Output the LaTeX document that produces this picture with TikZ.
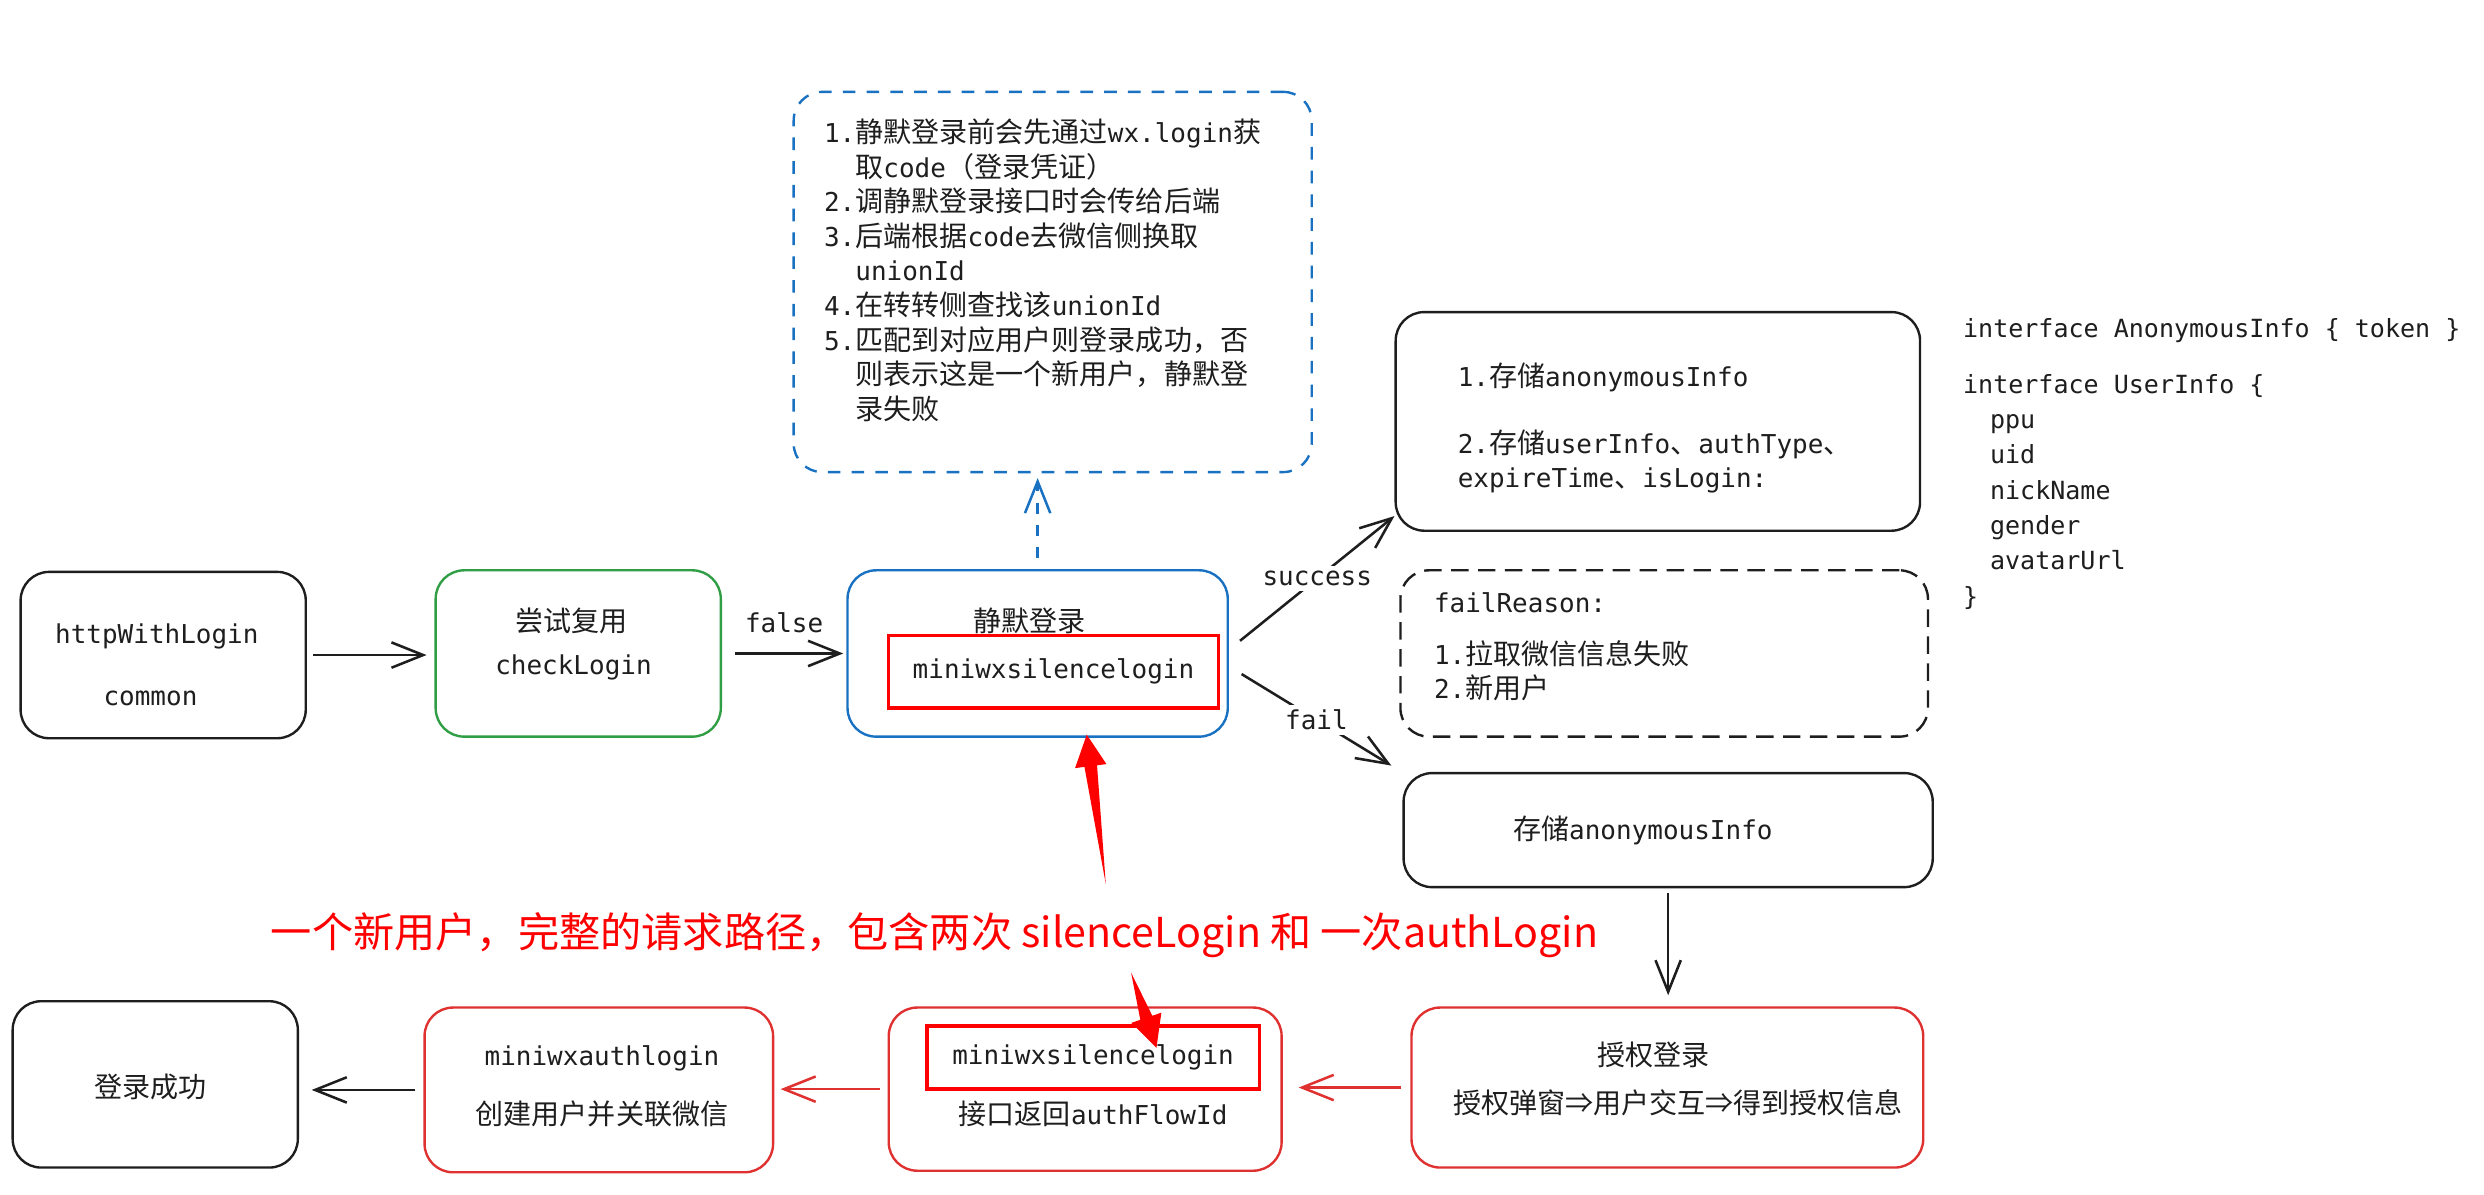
\documentclass[tikz,border=0pt]{standalone}
\usepackage{fontspec}
\setmainfont{DejaVu Sans Mono}
\newfontfamily\zhfont{Noto Sans CJK SC}[Scale=1.08]
\newfontfamily\annfont{Noto Sans CJK SC}
\usetikzlibrary{arrows.meta,calc}
\definecolor{exblack}{HTML}{1E1E1E}
\definecolor{exgreen}{HTML}{2F9E44}
\definecolor{exblue}{HTML}{1971C2}
\definecolor{exred}{HTML}{E03131}
\definecolor{apired}{HTML}{FF0000}
\newcommand*{\zh}[1]{{\zhfont #1}}
\newcommand*{\ind}{\hspace*{17pt}}
\newcommand*{\taper}[2]{%
\path (#2) coordinate (tpa) ($(#2)!20pt!(#1)$) coordinate (tpb);
\fill[apired] (#1) -- ($(tpb)!4pt!90:(#1)$) -- ($(tpb)!10pt!90:(#1)$) -- (tpa)
  -- ($(tpb)!10pt!-90:(#1)$) -- ($(tpb)!4pt!-90:(#1)$) -- cycle;}

\begin{document}
\begin{tikzpicture}[x=1pt, y=-1pt,
  roundbox/.style={draw=#1, rounded corners=18pt, line width=1.5pt},
  wh/.style 2 args={minimum width=#1pt, minimum height=#2pt},
  txt/.style={font=\fontsize{16.4}{21.8}\selectfont, inner sep=0pt, text=exblack},
  apibox/.style={txt, draw=apired, line width=2.2pt},
  gap/.style 2 args={shorten <=#1pt, shorten >=#2pt},
  arr/.style={-{Straight Barb[length=20pt,width=16pt]}, line width=1.6pt, exblack},
  redarr/.style={arr, exred},
  dasharr/.style={arr, exblue, dash pattern=on 7pt off 7pt}]

\def\bw{180}
\def\bh{105}

\useasboundingbox (0,0) rectangle (1568,754);
\fill[white] (0,0) rectangle (1568,754);

% first row
\node[roundbox=exblack, wh={\bw}{\bh}] (http) at (103,413.5) {};
\node[txt] (httpA) at (99,402) {httpWithLogin};
\node[txt] (httpB) at (95,441) {common};

\node[roundbox=exgreen, wh={\bw}{\bh}] (check) at (365,412.5) {};
\node[txt] (checkA) at (361,392) {\zh{尝试复用}};
\node[txt] (checkB) at (362,421) {checkLogin};

\node[roundbox=exblue, wh={240}{\bh}] (silent) at (655,412.5) {};
\node[txt] (silentA) at (650,392) {\zh{静默登录}};
\node[apibox, wh={208}{46}] (silentapi) at (665,424) {miniwxsilencelogin};

\node[roundbox=exblue, dash pattern=on 8pt off 7pt, wh={327}{240}] (note) at (664.5,178) {};
\node[txt, align=left, anchor=north west] (noteA) at (520,75) {%
1.\zh{静默登录前会先通过}wx.login\zh{获}\\
\phantom{1.}\zh{取}code\zh{（登录凭证）}\\
2.\zh{调静默登录接口时会传给后端}\\
3.\zh{后端根据}code\zh{去微信侧换取}\\
\phantom{3.}unionId\\
4.\zh{在转转侧查找该}unionId\\
5.\zh{匹配到对应用户则登录成功，否}\\
\phantom{5.}\zh{则表示这是一个新用户，静默登}\\
\phantom{5.}\zh{录失败}};

\node[roundbox=exblack, wh={331}{138}] (store) at (1046.5,266) {};
\node[txt, align=left, anchor=north west] (storeA) at (920,229) {%
1.\zh{存储}anonymousInfo\\[20.2pt]
2.\zh{存储}userInfo\zh{、}authType\zh{、}\\
expireTime\zh{、}isLogin:};

\node[roundbox=exblack, dash pattern=on 11pt off 6pt, wh={333}{\bh}] (reason) at (1050.5,412.5) {};
\node[txt, align=left, anchor=north west] (reasonA) at (905,374) {%
failReason:\\[10.7pt]
1.\zh{拉取微信信息失败}\\
2.\zh{新用户}};

\node[roundbox=exblack, wh={334}{72}] (anon) at (1053,524) {};
\node[txt] (anonA) at (1037,524) {\zh{存储}anonymousInfo};

\node[txt, font=\fontsize{15.8}{22.3}\selectfont, align=left, anchor=north west] (code) at (1239,201) {%
interface AnonymousInfo \{ token \}\\[12.7pt]
interface UserInfo \{\\
\ind ppu\\
\ind uid\\
\ind nickName\\
\ind gender\\
\ind avatarUrl\\
\}};

% second row
\node[roundbox=exred, wh={323}{101}] (auth) at (1052.5,686.5) {};
\node[txt] (authA) at (1044,666) {\zh{授权登录}};
\node[txt] (authB) at (1059,696) {\zh{授权弹窗⇒用户交互⇒得到授权信息}};

\node[roundbox=exred, wh={248}{103}] (silentB) at (685,687.5) {};
\node[apibox, wh={210}{40}] (silentapiB) at (690,667.5) {miniwxsilencelogin};
\node[txt] (silentBtext) at (690,703) {\zh{接口返回}authFlowId};

\node[roundbox=exred, wh={220}{104}] (authapi) at (378,688) {};
\node[txt] (authapiA) at (380,668) {miniwxauthlogin};
\node[txt] (authapiB) at (380,703) {\zh{创建用户并关联微信}};

\node[roundbox=exblack, wh={\bw}{\bh}] (done) at (98,684.5) {};
\node[txt] (doneA) at (95,686) {\zh{登录成功}};

\node[txt, font=\annfont\fontsize{26}{31}\selectfont, text=apired] (path) at (590,590)
  {一个新用户，完整的请求路径，包含两次 silenceLogin 和 一次authLogin};

% connectors
\draw[arr, gap={4}{5}] (http.east) -- (http.east -| check.west);
\draw[arr, gap={8}{2}] (check.east) -- node[txt, above=12pt] (falseA) {false} (check.east -| silent.west);
\draw[dasharr, gap={7}{3}] (silent.north) -- (silent.north |- note.south);
\draw[arr] ([xshift=7pt,yshift=8pt]silent.east) -- node[txt, fill=white, inner sep=3pt] (succA) {success} ([yshift=10pt]store.south west);
\draw[arr] ([xshift=8pt,yshift=-13pt]silent.east) -- node[txt, fill=white, inner sep=3pt] (failA) {fail} ([xshift=-7pt,yshift=4pt]anon.north west);
\draw[arr, gap={3}{7}] (anon.south) -- (anon.south |- auth.north);
\draw[redarr, gap={6}{10}] (auth.west) -- (auth.west -| silentB.east);
\draw[redarr, gap={5}{4}] (silentB.west) -- (silentB.west -| authapi.east);
\draw[arr, gap={5}{8}] (authapi.west) -- (authapi.west -| done.east);

\coordinate (tailA) at (698,558);
\coordinate (tipA) at ([xshift=31pt,yshift=2pt]silent.south);
\coordinate (tailB) at (714,614);
\coordinate (tipB) at ([xshift=40pt,yshift=-15pt]silentapiB.north);
\taper{tailA}{tipA}
\taper{tailB}{tipB}
\end{tikzpicture}
\end{document}
